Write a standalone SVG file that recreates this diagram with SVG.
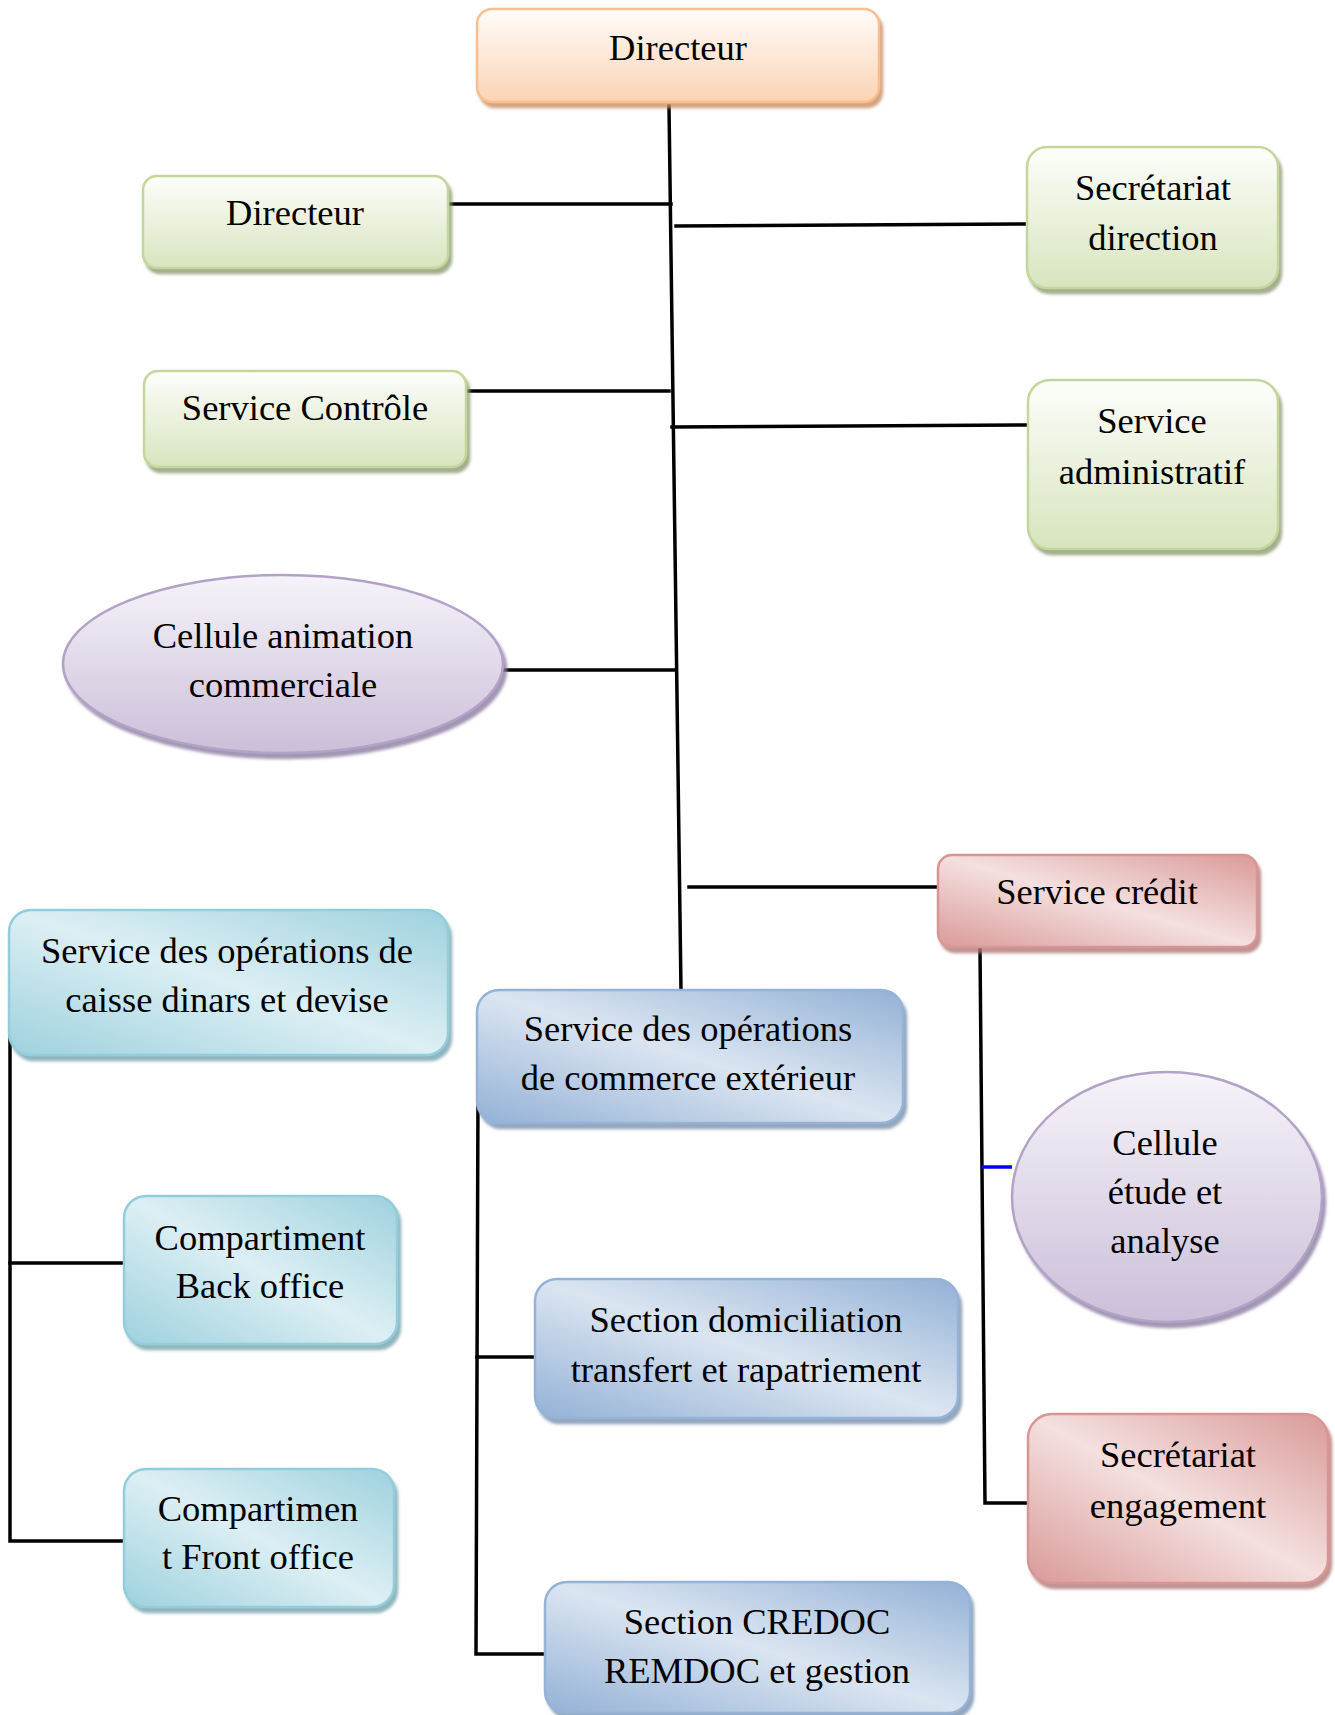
<svg xmlns="http://www.w3.org/2000/svg" width="1335" height="1715" viewBox="0 0 1335 1715">
<style>
text{font-family:"Liberation Serif","Times New Roman",serif;font-size:36.5px;fill:#000;text-anchor:middle}
.c{stroke:#000;stroke-width:3.5;fill:none;stroke-linecap:square}
.or{fill:url(#gOr);stroke:#f9be8f;stroke-width:2.5;filter:url(#sOr)}
.gr{fill:url(#gGr);stroke:#c3d69b;stroke-width:2.5;filter:url(#sGr)}
.pu{fill:url(#gPu);stroke:#b3a2c7;stroke-width:2.5;filter:url(#sPu)}
.re{fill:url(#gRe);stroke:#d99594;stroke-width:2.5;filter:url(#sRe)}
.te{fill:url(#gTe);stroke:#92cddc;stroke-width:2.5;filter:url(#sTe)}
.bl{fill:url(#gBl);stroke:#95b3d7;stroke-width:2.5;filter:url(#sBl)}
</style>
<defs>
<linearGradient id="gOr" x1="0" y1="0" x2="0" y2="1"><stop offset="0" stop-color="#fffcf9"/><stop offset="1" stop-color="#fbd3b3"/></linearGradient>
<linearGradient id="gGr" x1="0" y1="0" x2="0" y2="1"><stop offset="0" stop-color="#fdfefb"/><stop offset="1" stop-color="#d8e4be"/></linearGradient>
<linearGradient id="gPu" x1="0" y1="0" x2="0" y2="1"><stop offset="0" stop-color="#f6f3f9"/><stop offset="1" stop-color="#cbbfd9"/></linearGradient>
<linearGradient id="gRe" x1="0" y1="1" x2="1" y2="0"><stop offset="0" stop-color="#d99a99"/><stop offset="0.5" stop-color="#f4e0df"/><stop offset="1" stop-color="#d99a99"/></linearGradient>
<linearGradient id="gTe" x1="0" y1="1" x2="1" y2="0"><stop offset="0" stop-color="#9ed1de"/><stop offset="0.5" stop-color="#dceff4"/><stop offset="1" stop-color="#9ed1de"/></linearGradient>
<linearGradient id="gBl" x1="0" y1="1" x2="1" y2="0"><stop offset="0" stop-color="#93b1d6"/><stop offset="0.5" stop-color="#dbe5f1"/><stop offset="1" stop-color="#93b1d6"/></linearGradient>
<filter id="sOr" x="-10%" y="-10%" width="125%" height="130%"><feDropShadow dx="3" dy="5" stdDeviation="1.5" flood-color="#c98f62" flood-opacity="0.8"/></filter>
<filter id="sGr" x="-10%" y="-10%" width="125%" height="130%"><feDropShadow dx="3" dy="5" stdDeviation="1.5" flood-color="#8c9a70" flood-opacity="0.8"/></filter>
<filter id="sPu" x="-10%" y="-10%" width="125%" height="130%"><feDropShadow dx="3" dy="5" stdDeviation="1.5" flood-color="#8a7ca0" flood-opacity="0.8"/></filter>
<filter id="sRe" x="-10%" y="-10%" width="125%" height="130%"><feDropShadow dx="3" dy="5" stdDeviation="1.5" flood-color="#b07878" flood-opacity="0.8"/></filter>
<filter id="sTe" x="-10%" y="-10%" width="125%" height="130%"><feDropShadow dx="3" dy="5" stdDeviation="1.5" flood-color="#76a3ad" flood-opacity="0.8"/></filter>
<filter id="sBl" x="-10%" y="-10%" width="125%" height="130%"><feDropShadow dx="3" dy="5" stdDeviation="1.5" flood-color="#7890ad" flood-opacity="0.8"/></filter>
</defs>

<g id="connectors">
<line class="c" x1="669" y1="106" x2="681" y2="990"/>
<line class="c" x1="448" y1="204" x2="671" y2="204"/>
<line class="c" x1="676" y1="226" x2="1027" y2="224"/>
<line class="c" x1="466" y1="391" x2="669" y2="391"/>
<line class="c" x1="672" y1="427" x2="1026" y2="425"/>
<line class="c" x1="503" y1="670" x2="675" y2="670"/>
<line class="c" x1="689" y1="887" x2="938" y2="887"/>
<polyline class="c" points="980,949 985,1503 1028,1503"/>
<line x1="982" y1="1167" x2="1012" y2="1167" stroke="#0000ff" stroke-width="3.5"/>
<polyline class="c" points="10,1028 10,1541 124,1541"/>
<line class="c" x1="10" y1="1263" x2="124" y2="1263"/>
<polyline class="c" points="478,1093 476,1654 545,1654"/>
<line class="c" x1="477" y1="1357" x2="535" y2="1357"/>
</g>

<g id="n-directeur">
<rect class="or" x="477" y="9" width="402" height="93" rx="15"/>
<text x="678" y="60">Directeur</text>
</g>
<g id="n-directeur2">
<rect class="gr" x="143" y="176" width="305" height="92" rx="14"/>
<text x="295" y="225">Directeur</text>
</g>
<g id="n-secretariat-direction">
<rect class="gr" x="1027" y="147" width="251" height="141" rx="20"/>
<text x="1153" y="200">Secrétariat</text>
<text x="1153" y="250">direction</text>
</g>
<g id="n-service-controle">
<rect class="gr" x="144" y="371" width="322" height="96" rx="14"/>
<text x="305" y="420">Service Contrôle</text>
</g>
<g id="n-service-administratif">
<rect class="gr" x="1028" y="380" width="250" height="169" rx="22"/>
<text x="1152" y="433">Service</text>
<text x="1152" y="484">administratif</text>
</g>
<g id="n-cellule-animation">
<ellipse class="pu" cx="283" cy="664" rx="220" ry="89"/>
<text x="283" y="648">Cellule animation</text>
<text x="283" y="697">commerciale</text>
</g>
<g id="n-service-credit">
<rect class="re" x="938" y="855" width="319" height="92" rx="14"/>
<text x="1097" y="904">Service crédit</text>
</g>
<g id="n-cellule-etude">
<ellipse class="pu" cx="1167" cy="1197" rx="155" ry="125"/>
<text x="1165" y="1155">Cellule</text>
<text x="1165" y="1204">étude et</text>
<text x="1165" y="1253">analyse</text>
</g>
<g id="n-secretariat-engagement">
<rect class="re" x="1028" y="1414" width="300" height="169" rx="24"/>
<text x="1178" y="1467">Secrétariat</text>
<text x="1178" y="1518">engagement</text>
</g>
<g id="n-caisse">
<rect class="te" x="9" y="910" width="439" height="145" rx="22"/>
<text x="227" y="963">Service des opérations de</text>
<text x="227" y="1012">caisse dinars et devise</text>
</g>
<g id="n-back-office">
<rect class="te" x="124" y="1196" width="273" height="148" rx="22"/>
<text x="260" y="1250">Compartiment</text>
<text x="260" y="1298">Back office</text>
</g>
<g id="n-front-office">
<rect class="te" x="124" y="1469" width="270" height="138" rx="22"/>
<text x="258" y="1521">Compartimen</text>
<text x="258" y="1569">t Front office</text>
</g>
<g id="n-commerce-exterieur">
<rect class="bl" x="477" y="990" width="426" height="133" rx="22"/>
<text x="688" y="1041">Service des opérations</text>
<text x="688" y="1090">de commerce extérieur</text>
</g>
<g id="n-domiciliation">
<rect class="bl" x="535" y="1279" width="423" height="139" rx="22"/>
<text x="746" y="1332">Section domiciliation</text>
<text x="746" y="1382">transfert et rapatriement</text>
</g>
<g id="n-credoc">
<rect class="bl" x="545" y="1582" width="425" height="131" rx="22"/>
<text x="757" y="1634">Section CREDOC</text>
<text x="757" y="1683">REMDOC et gestion</text>
</g>
</svg>
